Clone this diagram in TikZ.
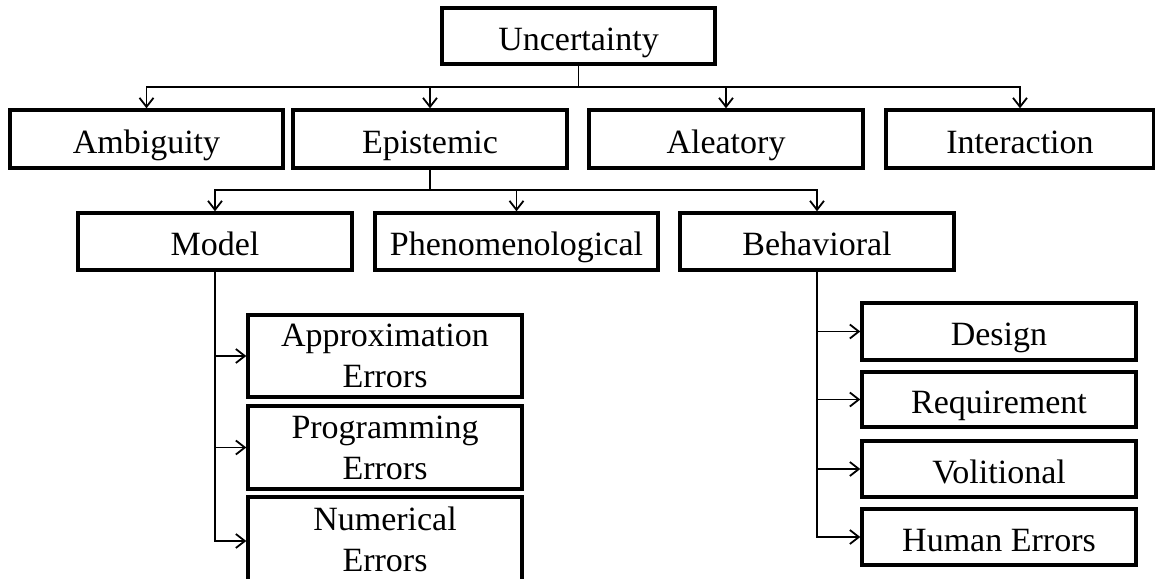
\documentclass[tikz,border=0pt]{standalone}
\usepackage{fontspec}
\setmainfont{Liberation Serif}
\usetikzlibrary{arrows.meta}
\begin{document}
\begin{tikzpicture}[x=1pt,y=-1pt,
  box/.style={draw=black, line width=3.4pt, inner sep=0pt, align=center,
    font=\fontsize{34}{41}\selectfont, text=black},
  one/.style={text height=30pt, text depth=2pt},
  arr/.style={line width=1.8pt, -{Straight Barb[length=9pt,width=14pt,line width=1.8pt]}},
  link/.style={line width=1.8pt}]
\useasboundingbox (0,0) rectangle (1155,578);
\clip (0,0) rectangle (1155,578);
% level 0
\node[box, one, minimum width=273pt, minimum height=56pt] (unc) at (578.5,36) {Uncertainty};
% level 1
\node[box, one, minimum width=273pt, minimum height=58pt] (amb) at (146.5,139) {Ambiguity};
\node[box, one, minimum width=274pt, minimum height=58pt] (epi) at (430,139) {Epistemic};
\node[box, one, minimum width=274pt, minimum height=58pt] (ale) at (726,139) {Aleatory};
\node[box, one, minimum width=268pt, minimum height=58pt] (int) at (1020,139) {Interaction};
% level 2
\node[box, one, minimum width=274pt, minimum height=57pt] (mod) at (215,241.5) {Model};
\node[box, one, minimum width=283pt, minimum height=57pt] (phe) at (516.5,241.5) {Phenomenological};
\node[box, one, minimum width=274pt, minimum height=57pt] (beh) at (817,241.5) {Behavioral};
% level 3 model
\node[box, minimum width=274pt, minimum height=82pt] (apx) at (385,356) {Approximation\\Errors};
\node[box, minimum width=274pt, minimum height=83pt] (prg) at (385,447.5) {Programming\\Errors};
\node[box, minimum width=274pt, minimum height=84pt] (num) at (385,539) {Numerical\\Errors};
% level 3 behavioral
\node[box, one, minimum width=274pt, minimum height=57pt] (des) at (999,331.5) {Design};
\node[box, one, minimum width=274pt, minimum height=55pt] (req) at (999,399.5) {Requirement};
\node[box, one, minimum width=274pt, minimum height=56pt] (vol) at (999,469) {Volitional};
\node[box, one, minimum width=274pt, minimum height=56pt] (hum) at (999,537) {Human Errors};
% buses
\coordinate (bus1) at (578.5,87);
\coordinate (bus2) at (430,190);
\draw[link] (unc.south) -- (bus1);
\foreach \n in {amb,epi,ale,int} \draw[arr] (bus1) -| (\n.north);
\draw[link] (epi.south) -- (bus2);
\foreach \n in {mod,phe,beh} \draw[arr] (bus2) -| (\n.north);
\foreach \n in {apx,prg} \draw[arr] (mod.south) |- (\n.west);
\draw[arr] (mod.south) |- ([yshift=-2pt]num.west);
\foreach \n in {des,req,vol,hum} \draw[arr] (beh.south) |- (\n.west);
\end{tikzpicture}
\end{document}
